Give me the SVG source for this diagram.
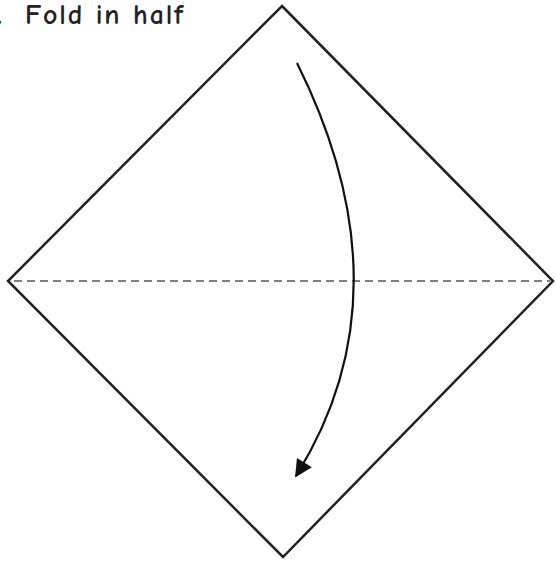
<svg xmlns="http://www.w3.org/2000/svg" width="556" height="562" viewBox="0 0 556 562">
<defs>
<style>
.edge{fill:none;stroke:#222;stroke-width:2.5;stroke-linejoin:miter}
.fold{fill:none;stroke:#555;stroke-width:1.3;stroke-dasharray:8,5}
.arrow{fill:none;stroke:#111;stroke-width:2.2}
.label{font-family:"Comic Neue","Liberation Sans",sans-serif;font-weight:bold;font-size:28px;fill:#222}
</style>
<marker id="head" viewBox="0 0 10 10" refX="9" refY="5" markerWidth="9" markerHeight="8" orient="auto" markerUnits="strokeWidth">
<path d="M0,0 L10,5 L0,10 Z" fill="#111"/>
</marker>
</defs>
<rect width="556" height="562" fill="#fff"/>
<g id="title"><text class="label" y="24"><tspan x="-14">1.</tspan><tspan x="25" textLength="158" lengthAdjust="spacing">Fold in half</tspan></text></g>
<g id="paper">
<polygon class="edge" points="282,6 553,281 283,557 8,281"/>
</g>
<g id="connectors">
<line class="fold" x1="14" y1="281" x2="550" y2="281"/>
<path class="arrow" d="M297,63 Q411,292 296,476" marker-end="url(#head)"/>
</g>
</svg>
